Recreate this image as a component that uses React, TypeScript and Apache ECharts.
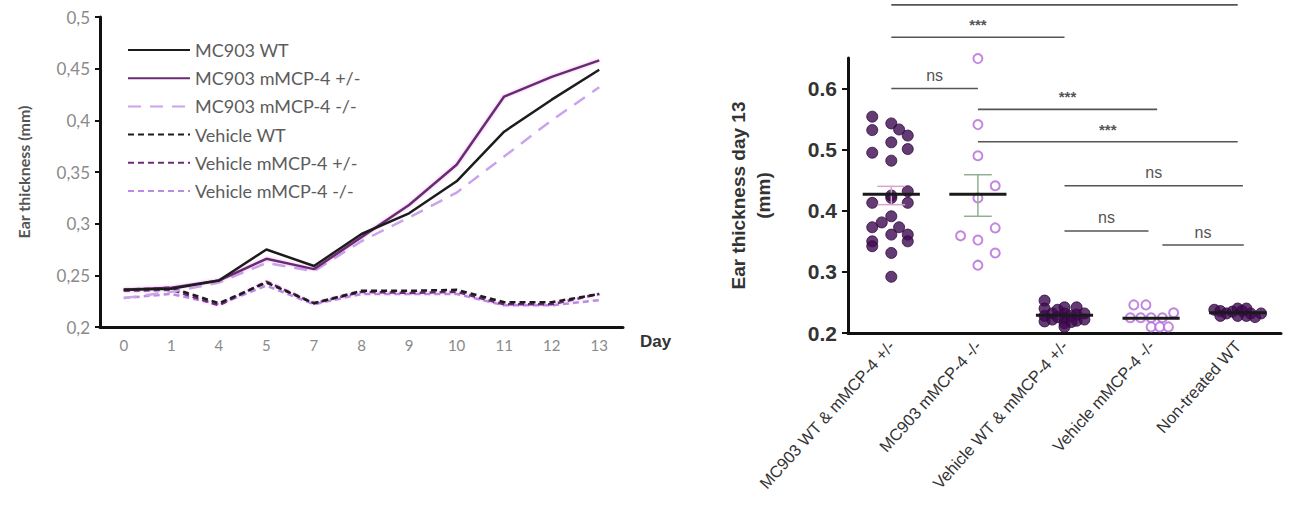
import React, { useEffect, useRef } from 'react';
import * as echarts from 'echarts';

// ---------- Left chart data ----------
const days = ['0', '1', '4', '5', '7', '8', '9', '10', '11', '12', '13'];
const lineNames = [
  'MC903 WT',
  'MC903 mMCP-4 +/-',
  'MC903 mMCP-4 -/-',
  'Vehicle WT',
  'Vehicle mMCP-4 +/-',
  'Vehicle mMCP-4 -/-',
];
const mc903WT = [0.236, 0.237, 0.245, 0.275, 0.259, 0.29, 0.31, 0.341, 0.389, 0.42, 0.449];
const mc903Het = [0.236, 0.238, 0.245, 0.266, 0.256, 0.287, 0.318, 0.357, 0.423, 0.442, 0.458];
const mc903KO = [0.228, 0.234, 0.243, 0.262, 0.254, 0.283, 0.306, 0.33, 0.365, 0.4, 0.432];
const vehWT = [0.236, 0.238, 0.223, 0.243, 0.223, 0.235, 0.235, 0.236, 0.224, 0.224, 0.232];
const vehHet = [0.235, 0.236, 0.221, 0.244, 0.223, 0.234, 0.233, 0.234, 0.222, 0.222, 0.232];
const vehKO = [0.228, 0.232, 0.222, 0.24, 0.222, 0.232, 0.232, 0.232, 0.221, 0.221, 0.226];
const lineSeriesData = [mc903WT, mc903Het, mc903KO, vehWT, vehHet, vehKO];

// ---------- Right chart data ----------
const groups = [
  'MC903 WT & mMCP-4 +/-',
  'MC903 mMCP-4 -/-',
  'Vehicle WT & mMCP-4 +/-',
  'Vehicle mMCP-4 -/-',
  'Non-treated WT',
];
const rightYTicks = [0.2, 0.3, 0.4, 0.5, 0.6];

const g1Values = [0.554, 0.532, 0.543, 0.533, 0.523, 0.512, 0.501, 0.495, 0.482, 0.432, 0.413, 0.421, 0.413, 0.391, 0.381, 0.373, 0.373, 0.361, 0.361, 0.35, 0.35, 0.342, 0.331, 0.292, 0.425];
const g1Jitter = [-0.22, -0.22, 0, 0.09, 0.19, 0, 0.19, -0.22, 0, 0.19, -0.22, 0, 0.19, 0, -0.11, -0.22, 0.09, 0, 0.19, -0.22, 0.19, -0.22, 0, 0, 0];

const g2Values = [0.649, 0.541, 0.49, 0.441, 0.421, 0.372, 0.359, 0.352, 0.331, 0.311];
const g2Jitter = [0, 0, 0, 0.2, 0, 0.2, -0.2, 0, 0.2, 0];

const g3Values = [0.253, 0.24, 0.228, 0.219, 0.232, 0.222, 0.242, 0.232, 0.224, 0.216, 0.21, 0.228, 0.242, 0.23, 0.22, 0.232, 0.222, 0.226, 0.218, 0.238];
const g3Jitter = [-0.23, -0.23, -0.23, -0.23, -0.14, -0.14, 0, 0, 0, 0, 0, 0.08, 0.14, 0.14, 0.14, 0.23, 0.23, -0.08, 0.08, -0.08];

const g4Values = [0.246, 0.246, 0.233, 0.225, 0.225, 0.225, 0.225, 0.21, 0.21, 0.21];
const g4Jitter = [-0.2, -0.06, 0.26, -0.24, -0.12, 0, 0.13, 0, 0.1, 0.2];

const g5Values = [0.238, 0.236, 0.232, 0.235, 0.24, 0.236, 0.228, 0.232, 0.226, 0.232, 0.228, 0.228, 0.24];
const g5Jitter = [-0.27, -0.2, -0.13, -0.06, 0, 0.05, 0.1, 0.15, 0.2, 0.27, -0.2, 0, 0.1];

const groupMeans = [0.427, 0.427, 0.229, 0.224, 0.233];
const groupErrLow = [0.41, 0.391, 0.229, 0.224, 0.233];
const groupErrHigh = [0.44, 0.459, 0.229, 0.224, 0.233];

const sigFrom = [0, 0, 0, 1, 1, 2, 2, 3.13];
const sigTo = [4, 2, 1, 3.07, 4, 4.06, 2.97, 4.07];
const sigLevel = [0.737, 0.684, 0.6, 0.566, 0.513, 0.441, 0.367, 0.344];
const sigLabels = ['', '***', 'ns', '***', '***', 'ns', 'ns', 'ns'];

// ---------- styles ----------
const lineColors = ['#1c1c1c', '#6a2c73', '#c9a3ec', '#1c1c1c', '#6a2c73', '#b98be6'];
const lineTypes: any[] = ['solid', 'solid', [13, 9], [6, 4], [6, 4], [6, 4]];
const darkDot = '#3f0a50';
const openDot = '#b468d8';
const errColors = ['#d8a6cc', '#93ad93', '#888', '#888', '#888'];

const App: React.FC = () => {
  const ref = useRef<HTMLDivElement>(null);

  useEffect(() => {
    if (!ref.current) return;
    const chart = echarts.init(ref.current, undefined, { renderer: 'svg' });

    const leftFont = 'Lato, "Open Sans", sans-serif';
    const rightFont = '"Liberation Sans", Arial, sans-serif';

    const lineSeries = lineNames.map((name, i) => ({
      name,
      type: 'line',
      xAxisIndex: 0,
      yAxisIndex: 0,
      data: lineSeriesData[i],
      symbol: 'none',
      lineStyle: {
        color: lineColors[i],
        width: 2.5,
        type: lineTypes[i],
        shadowColor: i === 1 || i === 4 ? 'rgba(215,120,225,0.55)' : 'transparent',
        shadowBlur: i === 1 || i === 4 ? 3 : 0,
      },
      itemStyle: { color: lineColors[i] },
      z: 3 + (5 - i),
    }));

    const mk = (vals: number[], jit: number[], g: number) => vals.map((v, k) => [g + jit[k], v]);

    const filled = {
      type: 'scatter',
      xAxisIndex: 2,
      yAxisIndex: 1,
      symbol: 'circle',
      symbolSize: 11,
      itemStyle: { color: darkDot, borderColor: '#300840', borderWidth: 1 },
      z: 4,
    };
    const open = {
      type: 'scatter',
      xAxisIndex: 2,
      yAxisIndex: 1,
      symbol: 'circle',
      symbolSize: 9,
      itemStyle: { color: '#ffffff', borderColor: openDot, borderWidth: 2 },
      z: 4,
    };

    const option: any = {
      animation: false,
      backgroundColor: '#ffffff',
      legend: {
        data: lineNames,
        orient: 'vertical',
        left: 127,
        top: 41,
        padding: 0,
        itemWidth: 62,
        itemHeight: 14,
        itemGap: 10.2,
        itemStyle: { opacity: 0 },
        textStyle: { fontFamily: leftFont, fontSize: 18, color: '#5c5c5c' },
        selectedMode: false,
      },
      grid: [
        { left: 100, top: 17, width: 523, height: 310 },
        { left: 848, top: 58, width: 433, height: 275 },
      ],
      xAxis: [
        {
          type: 'category',
          gridIndex: 0,
          data: days,
          axisLine: { lineStyle: { color: '#111', width: 3 } },
          axisTick: { length: 5, lineStyle: { color: '#111', width: 2 } },
          axisLabel: { fontFamily: leftFont, fontSize: 15, color: '#8a8a8a', margin: 10 },
        },
        {
          type: 'category',
          gridIndex: 1,
          data: groups,
          axisLine: { onZero: false, lineStyle: { color: '#111', width: 3 } },
          axisTick: { alignWithLabel: true, length: 7, lineStyle: { color: '#111', width: 2 } },
          axisLabel: { fontFamily: rightFont, fontSize: 16.5, color: '#333', rotate: 48, margin: 10, interval: 0 },
        },
        {
          type: 'value',
          gridIndex: 1,
          min: -0.5,
          max: 4.5,
          show: false,
        },
      ],
      yAxis: [
        {
          type: 'value',
          gridIndex: 0,
          min: 0.2,
          max: 0.5,
          interval: 0.05,
          name: 'Ear thickness (mm)',
          nameLocation: 'middle',
          nameGap: 69,
          nameTextStyle: { fontFamily: leftFont, fontSize: 16, fontWeight: 'bold', color: '#555' },
          splitLine: { show: false },
          axisLine: { show: true, onZero: false, lineStyle: { color: '#111', width: 3 } },
          axisTick: { show: true, length: 5, lineStyle: { color: '#111', width: 2 } },
          axisLabel: {
            fontFamily: leftFont,
            fontSize: 17,
            color: '#8a8a8a',
            margin: 10,
            formatter: (v: number) => String(Math.round(v * 100) / 100).replace('.', ','),
          },
        },
        {
          type: 'value',
          gridIndex: 1,
          min: 0.2,
          max: 0.65,
          name: 'Ear thickness day 13\n(mm)',
          nameLocation: 'middle',
          nameGap: 72,
          nameTextStyle: { fontFamily: rightFont, fontSize: 19, fontWeight: 'bold', color: '#333', lineHeight: 25 },
          splitLine: { show: false },
          axisLine: { show: true, onZero: false, lineStyle: { color: '#111', width: 3 } },
          axisTick: { show: true, length: 6, customValues: rightYTicks, lineStyle: { color: '#111', width: 2 } },
          axisLabel: {
            customValues: rightYTicks,
            fontFamily: rightFont,
            fontSize: 21,
            fontWeight: 'bold',
            color: '#333',
            margin: 11,
            formatter: (v: number) => v.toFixed(1),
          },
        },
      ],
      graphic: [
        {
          type: 'text',
          left: 640,
          top: 333,
          style: { text: 'Day', fontFamily: rightFont, fontSize: 17, fontWeight: 'bold', fill: '#333' },
        },
      ],
      series: [
        ...lineSeries,
        { ...filled, name: groups[0], data: mk(g1Values, g1Jitter, 0) },
        { ...open, name: groups[1], data: mk(g2Values, g2Jitter, 1) },
        { ...filled, name: groups[2], data: mk(g3Values, g3Jitter, 2) },
        { ...open, name: groups[3], data: mk(g4Values, g4Jitter, 3) },
        { ...filled, name: groups[4], data: mk(g5Values, g5Jitter, 4) },
        {
          type: 'custom',
          name: 'mean',
          xAxisIndex: 2,
          yAxisIndex: 1,
          z: 6,
          clip: false,
          data: groupMeans.map((m, i) => [i, m, groupErrLow[i], groupErrHigh[i]]),
          renderItem: (params: any, api: any) => {
            const x = api.value(0);
            const m = api.value(1);
            const lo = api.value(2);
            const hi = api.value(3);
            const i = params.dataIndex;
            const l = api.coord([x - 0.33, m]);
            const r = api.coord([x + 0.33, m]);
            const t = api.coord([x, hi]);
            const b = api.coord([x, lo]);
            const capL = api.coord([x - 0.16, hi])[0];
            const capR = api.coord([x + 0.16, hi])[0];
            const ec = errColors[i];
            const children: any[] = [];
            if (hi > lo) {
              children.push(
                { type: 'line', shape: { x1: t[0], y1: t[1], x2: b[0], y2: b[1] }, style: { stroke: ec, lineWidth: 1.5 } },
                { type: 'line', shape: { x1: capL, y1: t[1], x2: capR, y2: t[1] }, style: { stroke: ec, lineWidth: 1.5 } },
                { type: 'line', shape: { x1: capL, y1: b[1], x2: capR, y2: b[1] }, style: { stroke: ec, lineWidth: 1.5 } },
              );
            }
            children.push({ type: 'line', shape: { x1: l[0], y1: l[1], x2: r[0], y2: r[1] }, style: { stroke: '#1a1a1a', lineWidth: 3 } });
            return { type: 'group', children };
          },
        },
        {
          type: 'custom',
          name: 'significance',
          xAxisIndex: 2,
          yAxisIndex: 1,
          z: 2,
          clip: false,
          data: sigLevel.map((y, i) => [sigFrom[i], sigTo[i], y]),
          renderItem: (params: any, api: any) => {
            const i = params.dataIndex;
            const a = api.coord([api.value(0), api.value(2)]);
            const b = api.coord([api.value(1), api.value(2)]);
            const children: any[] = [
              { type: 'line', shape: { x1: a[0], y1: a[1], x2: b[0], y2: b[1] }, style: { stroke: '#555', lineWidth: 1.6 } },
            ];
            const label = sigLabels[i];
            if (label) {
              children.push({
                type: 'text',
                style: {
                  text: label,
                  x: (a[0] + b[0]) / 2,
                  y: a[1] - 5,
                  align: 'center',
                  verticalAlign: 'bottom',
                  fontFamily: rightFont,
                  fontSize: label === 'ns' ? 16 : 15,
                  fontWeight: label === 'ns' ? 'normal' : 'bold',
                  fill: '#555',
                },
              });
            }
            return { type: 'group', children };
          },
        },
      ],
    };

    chart.setOption(option);
    return () => chart.dispose();
  }, []);

  return <div ref={ref} style={{ width: 1290, height: 506, position: 'absolute', left: 0, top: 0 }} />;
};

export default App;
